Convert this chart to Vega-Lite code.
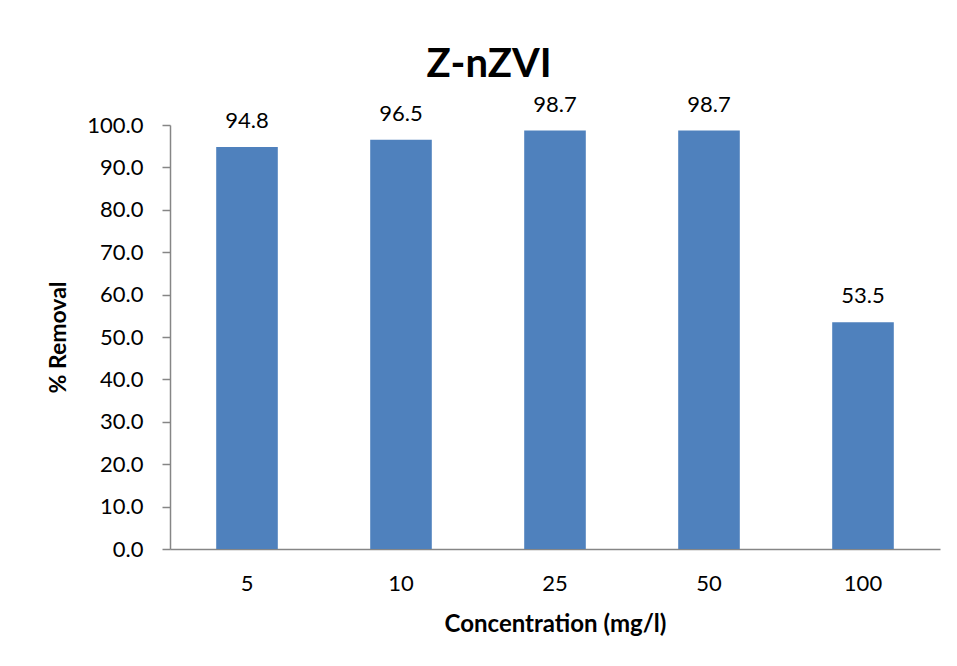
{
  "$schema": "https://vega.github.io/schema/vega-lite/v6.json",
  "autosize": {"type": "none"},
  "width": 770,
  "height": 424,
  "padding": {"left": 170, "top": 125, "right": 17, "bottom": 117},
  "background": "white",
  "title": {
    "text": "Z-nZVI",
    "font": "Lato",
    "fontSize": 40,
    "fontWeight": "bold",
    "color": "black",
    "anchor": "middle",
    "dx": -66,
    "offset": 9
  },
  "data": {
    "values": [
      {"conc": "5", "removal": 94.8},
      {"conc": "10", "removal": 96.5},
      {"conc": "25", "removal": 98.7},
      {"conc": "50", "removal": 98.7},
      {"conc": "100", "removal": 53.5}
    ]
  },
  "encoding": {
    "x": {
      "field": "conc",
      "type": "nominal",
      "sort": null,
      "scale": {"paddingInner": 0.6, "paddingOuter": 0.3},
      "axis": {
        "title": "Concentration (mg/l)",
        "labelAngle": 0,
        "ticks": false,
        "labelPadding": 24,
        "titlePadding": 18,
        "titleFontSize": 24
      }
    },
    "y": {
      "field": "removal",
      "type": "quantitative",
      "scale": {"domain": [0, 100], "nice": false},
      "axis": {
        "title": "% Removal",
        "values": [0, 10, 20, 30, 40, 50, 60, 70, 80, 90, 100],
        "format": ".1f",
        "grid": false,
        "tickSize": 8,
        "labelPadding": 19,
        "titlePadding": 16,
        "titleFontSize": 23
      }
    }
  },
  "layer": [
    {"mark": {"type": "bar", "color": "#4F81BD"}},
    {
      "mark": {"type": "text", "baseline": "alphabetic", "dy": -19, "font": "Lato", "fontSize": 22, "color": "black"},
      "encoding": {"text": {"field": "removal", "type": "quantitative", "format": ".1f"}}
    }
  ],
  "config": {
    "view": {"stroke": null},
    "axis": {
      "domainColor": "#868686",
      "domainWidth": 1.5,
      "tickColor": "#868686",
      "tickWidth": 1.5,
      "labelFont": "Lato",
      "labelFontSize": 22,
      "labelColor": "black",
      "titleFont": "Lato",
      "titleFontWeight": "bold",
      "titleColor": "black"
    }
  }
}
